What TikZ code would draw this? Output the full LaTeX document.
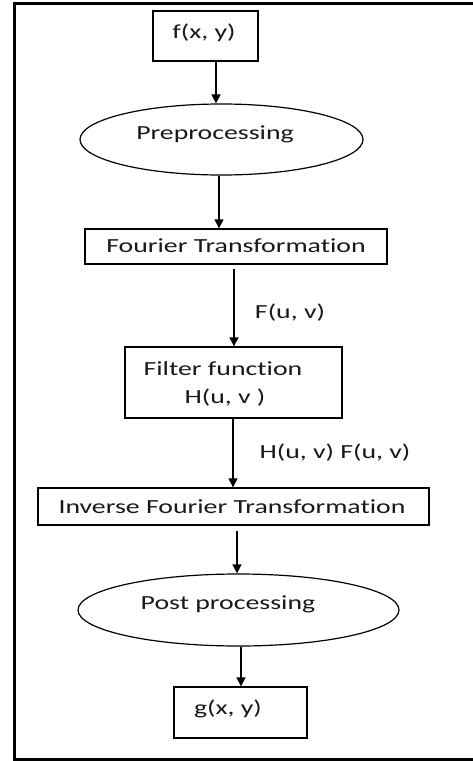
\documentclass[tikz,border=0pt]{standalone}
\usepackage{fontspec}
\setmainfont{Carlito}[Ligatures=NoCommon]
\usetikzlibrary{shapes.geometric,arrows.meta}
\newcommand{\sx}[1]{\scalebox{1.39}[1]{#1}}
\tikzset{
  box/.style={draw=black, line width=1.4pt, rectangle, inner sep=0pt, text=black!90, font=\fontsize{20}{24}\selectfont},
  oval/.style={draw=black, line width=1.2pt, ellipse, inner sep=0pt, text=black!90, font=\fontsize{20}{24}\selectfont},
  arr/.style={line width=1.4pt, -{Triangle[width=9pt,length=9pt]}},
  lbl/.style={inner sep=0pt, text=black!90, font=\fontsize{20}{24}\selectfont}
}
\begin{document}
\begin{tikzpicture}[x=1pt,y=-1pt]
\useasboundingbox (0,0) rectangle (473,761);
\fill[white] (0,0) rectangle (473,761);
% outer frame (open on the right)
\draw[line width=2.6pt] (473,3.5) -- (14.5,3.5) -- (14.5,759.5) -- (473,759.5);

\node[box, minimum width=105pt, minimum height=50pt] (fxy) at (205.5,36) {};
\node[lbl] (tfxy) at (204,33) {\sx{f(x, y)}};

\node[oval, minimum width=283pt, minimum height=71pt] (pre) at (221.5,139.5) {};
\node[lbl] (tpre) at (215,134) {\sx{Preprocessing}};

\node[box, minimum width=302pt, minimum height=35pt] (ft) at (236,246.5) {};
\node[lbl] (tft) at (236,246) {\sx{Fourier Transformation}};

\node[box, minimum width=217pt, minimum height=71pt] (filt) at (233.5,382.5) {};
\node[lbl] (tfilt1) at (223,369) {\sx{Filter function}};
\node[lbl] (tfilt2) at (225,398) {\sx{H(u, v )}};

\node[box, minimum width=391pt, minimum height=37pt] (inv) at (233.5,506.5) {};
\node[lbl] (tinv) at (232,507) {\sx{Inverse Fourier Transformation}};

\node[oval, minimum width=321pt, minimum height=72pt] (post) at (238.5,610) {};
\node[lbl] (tpost) at (228,604) {\sx{Post processing}};

\node[box, minimum width=133pt, minimum height=51pt] (gxy) at (240.5,712.5) {};
\node[lbl] (tgxy) at (228,709) {\sx{g(x, y)}};

\draw[arr] (216,0 |- fxy.south) -- (216,0 |- pre.north);
\draw[arr] (219,0 |- pre.south) -- (219,0 |- ft.north);
\draw[arr] (234,0 |- ft.south) ++(0,4) -- (234,0 |- filt.north);
\draw[arr] (233,0 |- filt.south) -- (233,0 |- inv.north);
\draw[arr] (237,0 |- inv.south) ++(0,5) -- (237,0 |- post.north);
\draw[arr] (241,0 |- post.south) -- (241,0 |- gxy.north);

\node[lbl] (fuv) at (290,313) {\sx{F(u, v)}};
\node[lbl] (hf) at (335,453) {\sx{H(u, v) F(u, v)}};
\end{tikzpicture}
\end{document}
